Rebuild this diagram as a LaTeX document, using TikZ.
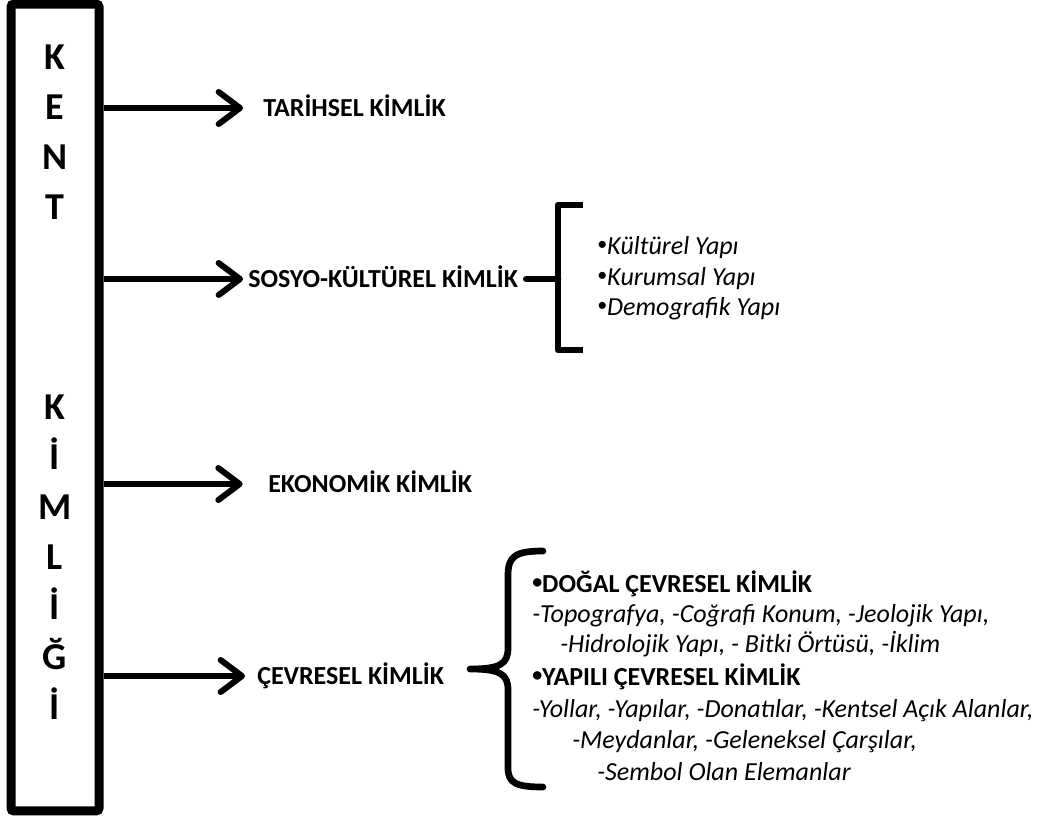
\documentclass[tikz,border=0pt]{standalone}
\usepackage{fontspec}
\setmainfont{Carlito}
\usetikzlibrary{arrows.meta}
\newcommand{\nokta}{\raisebox{0.12em}{\fontsize{15}{16}\selectfont\upshape •}}

\begin{document}
\begin{tikzpicture}[x=0.75pt,y=-0.75pt,
    harf/.style={inner sep=0pt, text height=18pt, text depth=0pt, font=\bfseries\fontsize{28.5}{34}\selectfont},
    kimlik/.style={anchor=west, inner sep=0pt, text height=12.75pt, text depth=0pt, font=\bfseries\fontsize{19.5}{23}\selectfont},
    madde/.style={anchor=base west, inner sep=0pt, font=\itshape\fontsize{19.5}{23}\selectfont},
    baslik/.style={anchor=base west, inner sep=0pt, font=\bfseries\fontsize{19.5}{23}\selectfont},
    ok/.style={line width=4.5pt, -{Straight Barb[round, length=16pt, width=24pt]}},
    ayrac/.style={line width=5pt, line cap=round, line join=round}]
    % Kent kimligi semasi
    \useasboundingbox (0,0) rectangle (1041,821);

    \node[draw, line width=6.75pt, rounded corners=2pt, minimum width=66pt, minimum height=605pt] (kent) at (55,407.5) {};
    \foreach \ch [count=\i] in {K,E,N,T}
        \node[harf] (harf\i) at (55,7+50*\i) {\ch};
    \foreach \ch [count=\i from 8] in {K,İ,M,L,İ,Ğ,İ}
        \node[harf] (harf\i) at (55,7+50*\i) {\ch};

    \node[kimlik] (tarihsel) at (263,108) {TARİHSEL KİMLİK};
    \node[kimlik] (sosyo) at (248,279) {SOSYO-KÜLTÜREL KİMLİK};
    \node[kimlik] (ekonomik) at (268,484) {EKONOMİK KİMLİK};
    \node[kimlik] (cevresel) at (257,676) {ÇEVRESEL KİMLİK};

    \draw[ok, shorten >=15pt] (kent.east |- tarihsel.west) -- (tarihsel.west);
    \draw[ok, shorten >=3.75pt] (kent.east |- sosyo.west) -- (sosyo.west);
    \draw[ok, shorten >=19pt] (kent.east |- ekonomik.west) -- (ekonomik.west);
    \draw[ok, shorten >=9pt] (kent.east |- cevresel.west) -- (cevresel.west);

    % sosyo-kulturel alt basliklar
    \coordinate (sosyobr) at (558,279);
    \draw[ayrac, shorten <=6pt] (sosyo.east) -- (sosyobr);
    \draw[ayrac, line cap=butt] (583,205) -- (558,205) -- (558,350) -- (583,350);
    \node[madde] (kultur) at (597,254) {\nokta Kültürel Yapı};
    \node[madde] (kurum) at (597,285) {\nokta Kurumsal Yapı};
    \node[madde] (demog) at (597,315) {\nokta Demografik Yapı};

    % cevresel alt basliklar
    \coordinate (cevreuc) at (470,669);
    \draw[ayrac] (543,551) .. controls (516,551) and (508,556) .. (508,575) -- (508,648)
        .. controls (508,664) and (500,669) .. (cevreuc)
        .. controls (500,669) and (508,674) .. (508,690) -- (508,768)
        .. controls (508,783) and (516,787) .. (543,787);
    \node[baslik] (dogal) at (532,592) {\nokta DOĞAL ÇEVRESEL KİMLİK};
    \node[madde] (dogal1) at (532,622) {-Topografya, -Coğrafi Konum, -Jeolojik Yapı,};
    \node[madde] (dogal2) at (560,652) {-Hidrolojik Yapı, - Bitki Örtüsü, -İklim};
    \node[baslik] (yapili) at (532,685) {\nokta YAPILI ÇEVRESEL KİMLİK};
    \node[madde] (yapili1) at (532,717) {-Yollar, -Yapılar, -Donatılar, -Kentsel Açık Alanlar,};
    \node[madde] (yapili2) at (572,748) {-Meydanlar, -Geleneksel Çarşılar,};
    \node[madde] (yapili3) at (597,780) {-Sembol Olan Elemanlar};
\end{tikzpicture}
\end{document}
